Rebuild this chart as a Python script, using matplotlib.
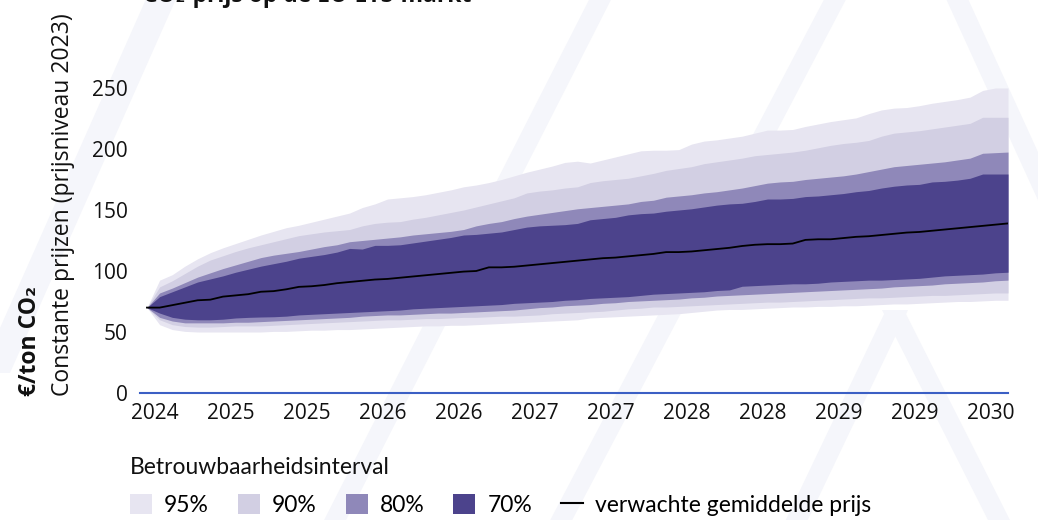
import matplotlib
matplotlib.use("Agg")
import matplotlib.pyplot as plt
from matplotlib.patches import Patch, Polygon
from matplotlib.lines import Line2D
import numpy as np

plt.rcParams['font.family'] = ['Open Sans', 'DejaVu Sans']

# maanden vanaf start van de projectie
maand = np.arange(69)

verwacht = [70, 70, 72, 74, 76, 76.5, 79, 80, 81, 83, 83.5, 85, 87, 87.5, 88.5, 90, 91, 92, 93, 93.5,
            94.5, 95.5, 96.5, 97.5, 98.5, 99.5, 100, 103, 103, 103.5, 104.5, 105.5, 106.5, 107.5, 108.5,
            109.5, 110.5, 111, 112, 113, 114, 115.5, 115.5, 116, 117, 118, 119, 120.5, 121.5, 122, 122,
            122.5, 125.5, 126, 126, 127, 128, 128.5, 129.5, 130.5, 131.5, 132, 133, 134, 135, 136, 137,
            138, 139]

b70_hoog = [70, 79, 83, 87, 91, 93.5, 96, 99, 101.5, 104, 106, 108, 110.5, 112, 113.5, 115.5, 118.5, 118,
            121, 121, 121.5, 123, 124.5, 126, 127.5, 129.5, 130, 131, 132, 134, 136, 137, 137.5, 138, 139,
            142, 143, 144, 146, 147, 147.5, 149, 150, 151, 152.5, 154, 155, 155.5, 157, 159, 159, 159.5,
            161, 161.5, 162.5, 163.5, 165, 166, 168, 169.5, 170.5, 171, 173, 173.5, 174.5, 176, 179.5,
            179.5, 179.5]
b70_laag = [70, 65.5, 62, 60.5, 60, 60, 60.5, 61.5, 62, 62.3, 62.5, 63, 64, 64.5, 65, 65.5, 66, 66.5, 67,
            67.5, 68, 69, 69.5, 70, 70.5, 71, 71.5, 72, 72.5, 73.5, 74, 74.5, 75, 76, 76.5, 77.5, 78, 78.5,
            79, 80, 81, 81.5, 82, 82.5, 83, 84, 84.5, 87.5, 88, 88.5, 89, 89.5, 89.5, 90, 91, 91.5, 92,
            92.5, 92.5, 93, 93.5, 94, 95, 96, 96.5, 97, 97.5, 98.5, 99]

b80_hoog = [70, 82, 86, 90.5, 95, 98.5, 102, 105, 108, 111, 113, 114.5, 116, 118, 120, 121.5, 124, 125,
            126, 127, 128, 129.5, 130.5, 131.5, 132.5, 134, 137, 139, 140.5, 143, 145, 146.5, 148, 149.5,
            151, 152, 153, 154, 155, 157, 158, 160.5, 161.5, 162.5, 164, 165, 166.5, 168, 170, 172, 173,
            173.5, 175, 176, 177, 178, 179.5, 181.5, 183.5, 185.5, 186.5, 187.5, 188.5, 189.5, 191, 192.5,
            196.5, 197, 197.5]
b80_laag = [70, 62, 59, 57.5, 57.5, 57.5, 57.5, 58, 58, 58.5, 59, 59.5, 60, 60.5, 61, 61.5, 62, 63, 63.5,
            64, 64, 64.5, 65, 65.5, 65.5, 66, 66.5, 67, 67.5, 68, 69, 70, 70.5, 71.5, 72, 72.5, 73.5, 74,
            75, 75.5, 76, 76.5, 77, 78, 78.5, 79.5, 80, 80.5, 81, 81.5, 82, 82.5, 83, 83.5, 84, 84.5, 85,
            85.5, 86, 87, 87.5, 88, 88.5, 89.5, 90, 90.5, 91, 92, 92.5]

b90_hoog = [70, 87, 92, 98, 104, 109, 112.5, 116, 119, 121.5, 124, 126.5, 129, 130.5, 132, 133, 134, 137,
            139, 140, 140.5, 142.5, 144, 146, 148, 150, 152.5, 155, 157.5, 160, 164, 165.5, 166.5, 168,
            169, 172.5, 174, 175, 176, 178, 180, 182.5, 184, 185.5, 188, 189.5, 191, 192.5, 194.5, 195.5,
            196.5, 197.5, 199, 201, 203, 204.5, 205.5, 207, 210.5, 213, 214, 215, 216.5, 218, 219.5, 221,
            226, 226, 226]
b90_laag = [70, 60, 56, 54.5, 54, 54, 54.5, 55, 55, 55, 55.5, 56, 56.5, 57, 57.5, 58, 58.5, 59, 59.5, 60,
            60, 60.5, 61, 61, 61.5, 62, 62, 62.5, 63, 63, 63.5, 64, 65, 65.5, 66, 66.5, 67, 68, 69, 69.5,
            70.5, 70.5, 71, 71.5, 72, 72.5, 73, 73.5, 74, 74.5, 74.5, 75, 75.5, 76, 76.5, 77, 77.5, 78, 78,
            78.5, 79, 79.5, 80, 80, 80.5, 81, 81.5, 82, 82]

b95_hoog = [70, 92.5, 97, 104, 110, 115, 119, 122.5, 126, 129.5, 132.5, 135.5, 137.5, 140, 142.5, 145,
            147.5, 152, 155, 159, 160, 161, 162.5, 164.5, 166.5, 169, 170.5, 172.5, 175, 178, 181, 183.5,
            186, 189, 190, 188.5, 191, 193.5, 196, 198.5, 199, 199, 199.5, 204, 206.5, 207.5, 209, 210.5,
            213, 215.5, 215.5, 216, 218.5, 220.5, 222.5, 224, 225.5, 229, 232, 233.5, 234, 235.5, 237.5,
            239, 240.5, 242.5, 248, 250, 250]
b95_laag = [70, 56, 52, 50.5, 50, 50, 50, 50, 50, 50, 50.5, 50.5, 51, 51.5, 51.5, 52, 52, 52.5, 53, 53.5,
            54, 54.5, 55, 55, 55.5, 55.5, 56, 56.5, 57, 57.5, 58, 58.5, 59, 59.5, 60, 61.5, 62, 62.5, 63,
            63.5, 64, 64.5, 65, 66, 67, 68, 68.5, 68.5, 69, 69.5, 70, 70.5, 70.5, 71, 71, 71.5, 71.5, 72,
            72.5, 73, 73, 73.5, 74, 74.5, 75, 75, 75.5, 76, 76]

tick_labels = ['2024', '2025', '2025', '2026', '2026', '2027', '2027', '2028', '2028', '2029', '2029', '2030']
intervallen = ['95%', '90%', '80%', '70%']
kleuren = ['#e7e5f1', '#d2cfe3', '#8f88b9', '#4c438c']

W, H = 1038, 520
fig = plt.figure(figsize=(W / 100, H / 100), dpi=100)

# lichte achtergrondstrepen (watermerk)
def streep(x0, y0, x1, y1, breedte=22):
    h = breedte / 2
    pts = [(x0 - h, y0), (x0 + h, y0), (x1 + h, y1), (x1 - h, y1)]
    pts = [(x / W, 1 - y / H) for x, y in pts]
    fig.add_artist(Polygon(pts, closed=True, facecolor='#f5f6fb', edgecolor='none',
                           transform=fig.transFigure, zorder=-5))

streep(165, -10, -5, 373, 30)
streep(605, -10, 330, 530)
streep(840, -10, 556, 530)
streep(897, 310, 792, 530)
streep(893, 310, 1004, 530)
streep(953, -10, 1090, 290)

ax = fig.add_axes([140 / W, 127 / H, 868 / W, 317.2 / H])
ax.set_facecolor('none')

banden = [(b95_laag, b95_hoog), (b90_laag, b90_hoog), (b80_laag, b80_hoog), (b70_laag, b70_hoog)]
for (laag, hoog), kleur in zip(banden, kleuren):
    ax.fill_between(maand, laag, hoog, color=kleur, linewidth=0)
ax.plot(maand, verwacht, color='black', lw=1.3)

ax.set_xlim(-0.55, 68)
ax.set_ylim(0, 260)
ax.set_yticks([0, 50, 100, 150, 200, 250])
ax.set_xticks(np.arange(12) * 6 + 0.6)
ax.set_xticklabels(tick_labels)
ax.tick_params(axis='both', length=0, labelsize=15, colors='#111111')
ax.tick_params(axis='y', pad=9)
ax.tick_params(axis='x', pad=7)
for s in ['top', 'right', 'left']:
    ax.spines[s].set_visible(False)
ax.spines['bottom'].set_color('#3b5fc4')
ax.spines['bottom'].set_linewidth(1.5)

# as-titels
fig.text(30 / W, 1 - 396 / H, '€/ton CO₂', rotation=90, rotation_mode='anchor',
         ha='left', va='center', fontsize=16.5, fontweight='bold', color='#111111')
fig.text(63 / W, 1 - 396 / H, 'Constante prijzen (prijsniveau 2023)', rotation=90,
         rotation_mode='anchor', ha='left', va='center', fontsize=16.5, color='#111111')

# afgesneden titel bovenaan (valt grotendeels buiten beeld, zoals in het origineel)
fig.text(143 / W, 1 - 1.5 / H, 'CO₂-prijs op de EU-ETS-markt', ha='left', va='baseline',
         fontsize=16.5, fontweight='bold', color='#111111')

# legenda
fig.text(130 / W, 1 - 467 / H, 'Betrouwbaarheidsinterval', ha='left', va='center',
         fontsize=16.5, family=['Lato', 'DejaVu Sans'], color='#111111')
handles = [Patch(facecolor=k, edgecolor='none') for k in kleuren]
handles.append(Line2D([], [], color='black', lw=1.5))
labels = intervallen + ['verwachte gemiddelde prijs']
fig.legend(handles, labels, loc='center left', bbox_to_anchor=(130 / W, 1 - 505 / H),
           ncol=5, frameon=False, borderpad=0, borderaxespad=0,
           handlelength=0.96, handleheight=0.96, handletextpad=0.52, columnspacing=1.27,
           prop={'family': ['Lato', 'DejaVu Sans'], 'size': 16.5})

fig.savefig('out.png', dpi=100)
